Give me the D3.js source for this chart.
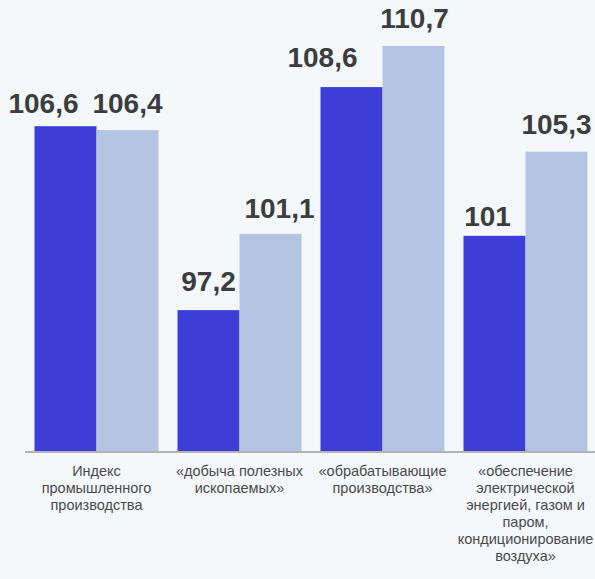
<!DOCTYPE html>
<html>
<head>
<meta charset="utf-8">
<script src="https://cdn.jsdelivr.net/npm/d3@7"></script>
<style>
  body { margin: 0; background: #f5f8fb; }
  svg { display: block; }
</style>
</head>
<body>
<svg id="chart"></svg>
<script>
var width = 595;
var height = 579;

var categories = [
  "Индекс\nпромышленного\nпроизводства",
  "«добыча полезных\nископаемых»",
  "«обрабатывающие\nпроизводства»",
  "«обеспечение\nэлектрической\nэнергией, газом и\nпаром,\nкондиционирование\nвоздуха»"
];
var series1 = [106.6, 97.2, 108.6, 101];
var series2 = [106.4, 101.1, 110.7, 105.3];
var labels1 = ["106,6", "97,2", "108,6", "101"];
var labels2 = ["106,4", "101,1", "110,7", "105,3"];

// manual label placement (label centre offset from bar centre, gap above bar)
var nudge1 = [{ dx: -22, gap: 13 }, { dx: 0, gap: 19 }, { dx: -29, gap: 20 }, { dx: -7, gap: 10 }];
var nudge2 = [{ dx: 0, gap: 17 }, { dx: 9, gap: 16 }, { dx: 1, gap: 18 }, { dx: 0, gap: 18 }];

var colors = ["#3d3dd8", "#b4c4e3"];

var baseline = 451;

var xScale = d3.scaleBand()
    .domain(categories)
    .range([25, 597]);

var inner = d3.scaleBand()
    .domain([0, 1])
    .range([0, xScale.bandwidth()])
    .paddingOuter(0.153);

var yScale = d3.scaleLinear()
    .domain([90, 113])
    .range([baseline, 1]);

var svg = d3.select("#chart")
    .attr("width", width)
    .attr("height", height);

var rows = categories.map((c, i) => ({
  cat: c,
  vals: [
    { s: 0, v: series1[i], label: labels1[i], n: nudge1[i] },
    { s: 1, v: series2[i], label: labels2[i], n: nudge2[i] }
  ]
}));

var groups = svg.selectAll(".grp")
    .data(rows)
    .enter()
    .append("g")
      .classed("grp", true)
      .attr("transform", d => "translate(" + xScale(d.cat) + ",0)");

groups.selectAll("rect")
    .data(d => d.vals)
    .enter()
    .append("rect")
      .attr("x", d => inner(d.s))
      .attr("y", d => yScale(d.v))
      .attr("width", inner.bandwidth())
      .attr("height", d => baseline - yScale(d.v))
      .attr("fill", d => colors[d.s]);

groups.selectAll(".val")
    .data(d => d.vals)
    .enter()
    .append("text")
      .classed("val", true)
      .attr("x", d => inner(d.s) + inner.bandwidth() / 2 + d.n.dx)
      .attr("y", d => yScale(d.v) - d.n.gap)
      .attr("text-anchor", "middle")
      .attr("font-family", "Liberation Sans, Arial, sans-serif")
      .attr("font-weight", "bold")
      .attr("font-size", 28)
      .attr("fill", "#3b3d40")
      .text(d => d.label);

// axis line
svg.append("line")
    .attr("x1", 25)
    .attr("x2", width)
    .attr("y1", baseline + 1)
    .attr("y2", baseline + 1)
    .attr("stroke", "#b3b3b3")
    .attr("stroke-width", 2);

// category labels
var catText = groups.append("text")
    .attr("text-anchor", "middle")
    .attr("font-family", "Liberation Sans, Arial, sans-serif")
    .attr("font-size", 14.5)
    .attr("fill", "#4a4a4a");

catText.selectAll("tspan")
    .data(d => d.cat.split("\n"))
    .enter()
    .append("tspan")
      .attr("x", xScale.bandwidth() / 2)
      .attr("y", (d, i) => 476 + i * 17)
      .text(d => d);
</script>
</body>
</html>
